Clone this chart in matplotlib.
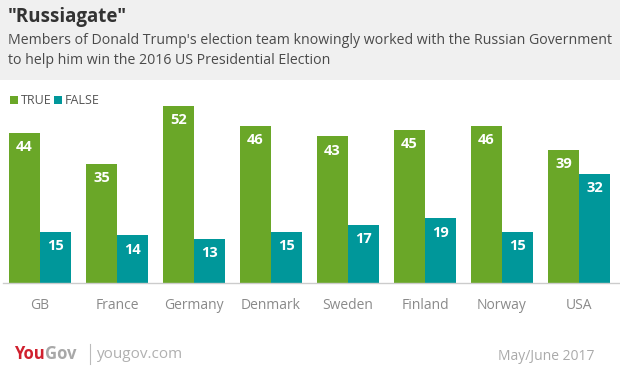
import matplotlib.pyplot as plt
from matplotlib.patches import Rectangle

countries = ['GB', 'France', 'Germany', 'Denmark', 'Sweden', 'Finland', 'Norway', 'USA']
true_vals = [44, 35, 52, 46, 43, 45, 46, 39]
false_vals = [15, 14, 13, 15, 17, 19, 15, 32]

green = '#6aa728'
teal = '#00979a'
plt.rcParams['font.family'] = ['Open Sans', 'DejaVu Sans']

W, H = 620, 373
fig = plt.figure(figsize=(W / 100, H / 100), dpi=100)
fig.patch.set_facecolor('white')

# grey header band
fig.patches.append(Rectangle((0, 1 - 80 / H), 1, 80 / H, transform=fig.transFigure,
                             facecolor='#f0f0f0', edgecolor='none', zorder=0))
fig.text(8 / W, 1 - 17 / H, '"Russiagate"', fontsize=13.5, fontweight='bold',
         color='#333333', va='center')
fig.text(8 / W, 1 - 41 / H,
         "Members of Donald Trump's election team knowingly worked with the Russian Government",
         fontsize=10.2, color='#4a4a4a', va='center')
fig.text(8 / W, 1 - 61 / H, 'to help him win the 2016 US Presidential Election',
         fontsize=10.2, color='#4a4a4a', va='center')

# legend
fig.patches.append(Rectangle((10 / W, 1 - 104 / H), 8 / W, 8 / H, transform=fig.transFigure,
                             facecolor=green, edgecolor='none'))
fig.text(21 / W, 1 - 100 / H, 'TRUE', fontsize=9, color='#555555', va='center')
fig.patches.append(Rectangle((54 / W, 1 - 104 / H), 8 / W, 8 / H, transform=fig.transFigure,
                             facecolor=teal, edgecolor='none'))
fig.text(65 / W, 1 - 100 / H, 'FALSE', fontsize=9, color='#555555', va='center')

# bars
base, top = 283, 100
ax = fig.add_axes([0, 1 - base / H, 1, (base - top) / H])
ax.set_xlim(-40 / 77, 580 / 77)
ax.set_ylim(0, (base - top) / 3.41)
ax.axis('off')
x = list(range(len(countries)))
bw = 0.4
ax.bar([i - bw / 2 for i in x], true_vals, bw, color=green)
ax.bar([i + bw / 2 for i in x], false_vals, bw, color=teal)
for i in x:
    ax.text(i - bw / 2, true_vals[i] - 4.2, str(true_vals[i]), ha='center', va='center',
            color='white', fontsize=10.5, fontweight='bold')
    ax.text(i + bw / 2, false_vals[i] - 4.2, str(false_vals[i]), ha='center', va='center',
            color='white', fontsize=10.5, fontweight='bold')
    ax.text(i, -6.5, countries[i], ha='center', va='center', color='#8a8a8a', fontsize=10,
            clip_on=False)
ax.plot([-37 / 77, 580 / 77], [0, 0], color='#cccccc', lw=1, clip_on=False)

# footer
fig.text(14 / W, 1 - 354 / H, 'You', fontsize=12, fontweight='bold', color='#d0202e',
         va='center')
fig.text(45 / W, 1 - 354 / H, 'Gov', fontsize=12, fontweight='bold', color='#a8a8a8',
         va='center')
fig.lines.append(plt.Line2D([90 / W, 90 / W], [1 - 364 / H, 1 - 344 / H],
                            transform=fig.transFigure, color='#bbbbbb', lw=0.8))
fig.text(97 / W, 1 - 354 / H, 'yougov.com', fontsize=11, color='#b0b0b0', va='center')
fig.text(498 / W, 1 - 356 / H, 'May/June 2017', fontsize=10, color='#aaaaaa', va='center')

fig.savefig('out.png', dpi=100)
